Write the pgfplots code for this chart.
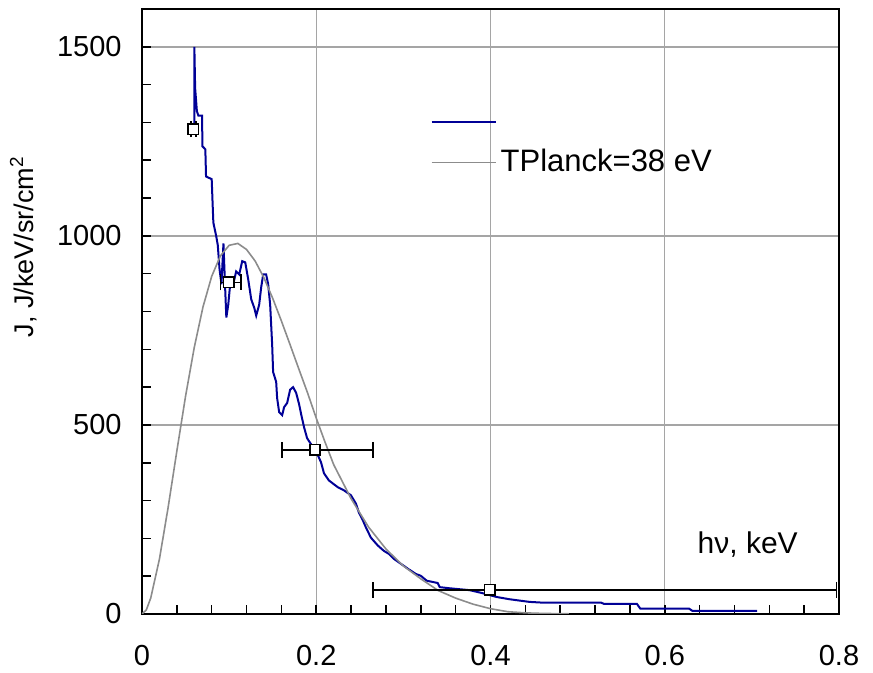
\documentclass[border=0pt]{standalone}
\usepackage{pgfplots}
\pgfplotsset{compat=1.18}
\usepackage{fontspec}
\setmainfont{Liberation Sans}
\definecolor{specblue}{RGB}{0,0,150}
\definecolor{planckgray}{RGB}{140,140,140}
\definecolor{gridgray}{RGB}{165,165,165}

\begin{document}
\fontsize{15}{18}\selectfont
\begin{tikzpicture}
% page size = reference proportions (1px = 0.5pt)
\path[use as bounding box] (-71pt,-29.5pt) rectangle (365.5pt,307pt);
\begin{axis}[
  at={(0,0)}, anchor=south west,
  scale only axis, width=348.5pt, height=302.5pt,
  xmin=0, xmax=0.8, ymin=0, ymax=1600,
  xtick={0,0.2,0.4,0.6,0.8}, ytick={0,500,1000,1500},
  minor x tick num=4, minor y tick num=4,
  tick pos=left, tick align=inside,
  major tick length=4.5pt, minor tick length=4.5pt,
  every tick/.style={black, line width=0.8pt},
  axis line style={black, line width=1pt},
  grid=major, grid style={gridgray, line width=0.7pt},
  /pgf/number format/assume math mode=true,
  /pgf/number format/1000 sep={},
  xticklabel style={font=\fontsize{14.5}{17}\selectfont, yshift=-10.5pt},
  yticklabel style={font=\fontsize{14.5}{17}\selectfont, xshift=-5pt},
  xlabel={hν, keV},
  xlabel style={at={(rel axis cs:0.869,0.114)}, anchor=center, font=\fontsize{15}{18}\selectfont},
  ylabel={J, J/keV/sr/cm\textsuperscript{2}},
  ylabel style={at={(rel axis cs:-0.17,0.607)}, anchor=center, font=\fontsize{13.5}{16}\selectfont},
  legend style={draw=none, fill=none, at={(rel axis cs:0.405,0.848)}, anchor=north west,
    font=\fontsize{15.5}{18}\selectfont, row sep=3pt, nodes={inner sep=2pt}},
  legend image code/.code={\draw[#1] (0pt,0pt) -- (32pt,0pt);},
  legend cell align=left,
]
% measured spectrum
\addplot[specblue, line width=1pt] coordinates {
 (0.0601,1290) (0.0601,1500) (0.0610,1390) (0.0620,1360) (0.0630,1330)
 (0.0647,1318) (0.0690,1318) (0.0693,1237) (0.0727,1229) (0.0735,1157)
 (0.0800,1150) (0.0810,1088) (0.0819,1035) (0.0853,998) (0.0870,975)
 (0.0890,912) (0.0912,872) (0.0935,980) (0.0955,858) (0.0968,784)
 (0.0990,818) (0.1012,872) (0.1047,872) (0.1081,906) (0.1116,898)
 (0.1150,933) (0.1185,930) (0.1219,885) (0.1254,832) (0.1288,810)
 (0.1311,789) (0.1345,818) (0.1368,864) (0.1391,898) (0.1425,898)
 (0.1448,872) (0.1471,818) (0.1494,712) (0.1505,640) (0.1540,614)
 (0.1551,571) (0.1574,534) (0.1609,526) (0.1631,547) (0.1666,558)
 (0.1700,593) (0.1734,600) (0.1769,585) (0.1803,555) (0.1826,529)
 (0.1860,494) (0.1895,465) (0.1940,449) (0.1975,433) (0.2009,425)
 (0.2055,401) (0.2089,372) (0.2146,353) (0.2249,335) (0.2318,327)
 (0.2398,314) (0.2455,292) (0.2490,268) (0.2536,247) (0.2570,229)
 (0.2627,202) (0.2707,181) (0.2776,167) (0.2833,159) (0.2890,146)
 (0.2970,133) (0.3050,120) (0.3142,106) (0.3200,101) (0.3268,88)
 (0.3394,82) (0.3417,71) (0.3532,68) (0.3761,63) (0.3910,55)
 (0.4070,45) (0.4219,39) (0.4448,32) (0.4600,30) (0.5270,30)
 (0.5300,27) (0.5680,27) (0.5720,14) (0.6280,14) (0.6320,8) (0.7060,8)
};
\addlegendentry{\vphantom{T}}
% Planck fit
\addplot[planckgray, line width=0.8pt] coordinates {
 (0,0) (0.005,11) (0.01,42) (0.02,145) (0.03,282) (0.04,431) (0.05,576)
 (0.06,705) (0.07,812) (0.08,893) (0.09,947) (0.10,975) (0.11,980)
 (0.12,964) (0.13,933) (0.14,889) (0.15,835) (0.16,775) (0.17,712)
 (0.18,648) (0.19,585) (0.20,518) (0.21,455) (0.22,395) (0.23,350)
 (0.24,305) (0.26,230) (0.28,172) (0.30,127) (0.32,93) (0.34,62)
 (0.36,42) (0.38,26) (0.40,14) (0.42,6) (0.44,3) (0.46,1.5) (0.49,0.5)
};
\addlegendentry{TPlanck=38 eV}
% points with energy bins
\addplot[only marks, forget plot, mark=square*, mark size=2.6pt,
  mark options={fill=white, draw=black, line width=0.8pt},
  error bars/.cd, x dir=both, x explicit,
  error bar style={black, line width=0.8pt},
  error mark options={rotate=90, mark size=4pt, black, line width=0.8pt}]
coordinates {
 (0.059,1282) +- (0.003,0)
 (0.0994,877) += (0.0141,0) -= (0.0095,0)
 (0.1986,434) += (0.0664,0) -= (0.0381,0)
 (0.399,64) += (0.398,0) -= (0.134,0)
};
\end{axis}
\end{tikzpicture}
\end{document}
